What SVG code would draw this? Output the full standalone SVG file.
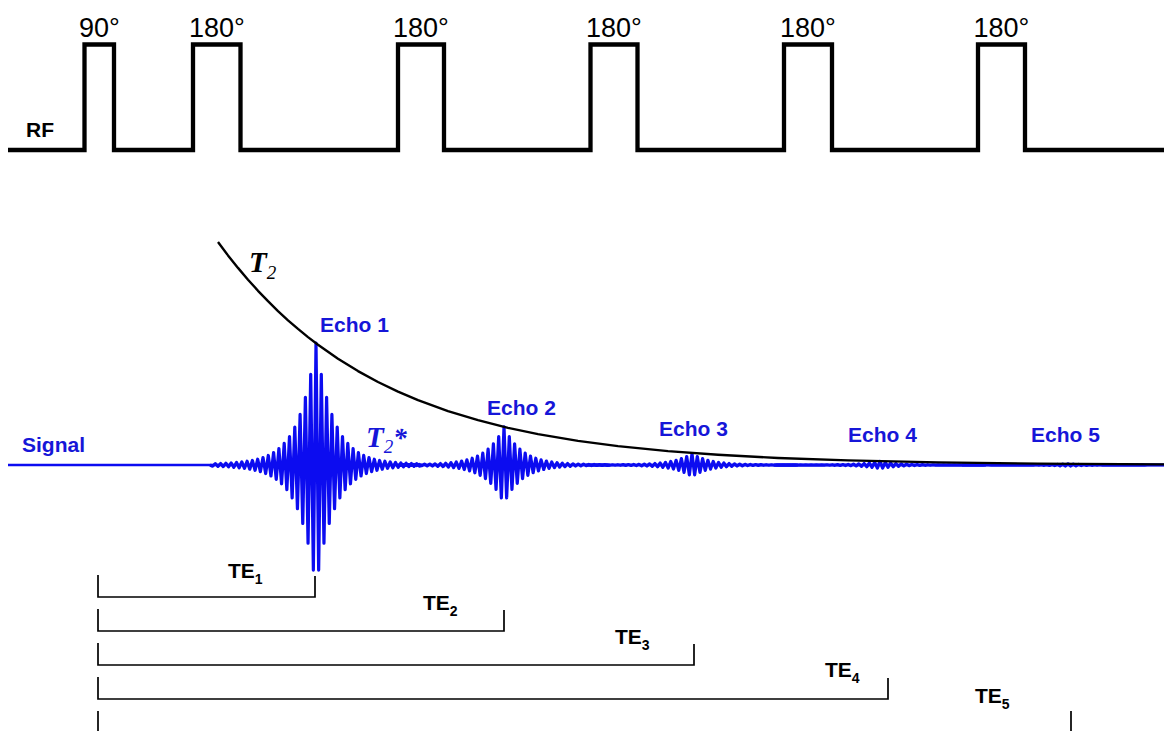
<svg xmlns="http://www.w3.org/2000/svg" xmlns:xlink="http://www.w3.org/1999/xlink" width="1164" height="731" viewBox="0 0 1164 731">
<style>
.ang{font-family:"Liberation Sans",Arial,sans-serif;font-size:27px;fill:#000;text-anchor:middle}
.lbl{font-family:"Liberation Sans",Arial,sans-serif;font-weight:bold;font-size:21px;fill:#000}
.blu{font-family:"Liberation Sans",Arial,sans-serif;font-weight:bold;font-size:21px;fill:#1616d8}
.te{font-family:"Liberation Sans",Arial,sans-serif;font-weight:bold;font-size:21px;fill:#000}
.sym{font-family:"Liberation Serif","Times New Roman",serif;font-style:italic;font-weight:bold;font-size:29px}
.br{fill:none;stroke:#000;stroke-width:1.7}
.echo{fill:none;stroke:#0c0cf0;stroke-width:3.2;stroke-linejoin:round;vector-effect:non-scaling-stroke}
</style>
<defs>
<path id="echoShape" class="echo" d="M-40 0 L-39 1.2 L-38 -1.3 L-37 1.4 L-36 -1.5 L-35 1.6 L-34 -1.8 L-33 1.9 L-32 -2 L-31 2.3 L-30 -2.5 L-29 2.7 L-28 -3 L-27 3.3 L-26 -3.7 L-25 4.1 L-24 -4.5 L-23 5.2 L-22 -5.7 L-21 6.5 L-20 -7.3 L-19 8.4 L-18 -9.4 L-17 10.8 L-16 -12.3 L-15 14.1 L-14 -16.2 L-13 18.5 L-12 -21.3 L-11 24.4 L-10 -28.1 L-9 32.4 L-8 -37.4 L-7 43.1 L-6 -49.8 L-5 57.6 L-4 -66.7 L-3 77.1 L-2 -89.3 L-1 103.5 L0 -120 L1 103.5 L2 -89.3 L3 77.1 L4 -66.7 L5 57.6 L6 -49.8 L7 43.1 L8 -37.4 L9 32.4 L10 -28.1 L11 24.4 L12 -21.3 L13 18.5 L14 -16.2 L15 14.1 L16 -12.3 L17 10.8 L18 -9.4 L19 8.4 L20 -7.3 L21 6.5 L22 -5.7 L23 5.2 L24 -4.5 L25 4.1 L26 -3.7 L27 3.3 L28 -3 L29 2.7 L30 -2.5 L31 2.3 L32 -2 L33 1.9 L34 -1.8 L35 1.6 L36 -1.5 L37 1.4 L38 -1.3 L39 1.2 L40 0"/>
</defs>
<rect width="1164" height="731" fill="#fff"/>

<g id="rf">
<path d="M8 150 H84.5 V44.5 H114 V150 H193 V44.5 H240.5 V150 H398 V44.5 H444 V150 H590.5 V44.5 H637.5 V150 H784 V44.5 H832 V150 H978 V44.5 H1025 V150 H1164" fill="none" stroke="#000" stroke-width="4.3" stroke-linejoin="miter"/>
<text class="lbl" x="26" y="137">RF</text>
<text class="ang" x="99.5" y="37">90°</text>
<text class="ang" x="217" y="37">180°</text>
<text class="ang" x="421" y="37">180°</text>
<text class="ang" x="614" y="37">180°</text>
<text class="ang" x="808" y="37">180°</text>
<text class="ang" x="1001.5" y="37">180°</text>
</g>

<g id="signal">
<line x1="8" y1="465" x2="1164" y2="465" stroke="#0c0cf0" stroke-width="2.7"/>
<use xlink:href="#echoShape" href="#echoShape" transform="translate(316,465) scale(2.65,1.015)"/>
<use xlink:href="#echoShape" href="#echoShape" transform="translate(504,465) scale(2.65,0.318)"/>
<use xlink:href="#echoShape" href="#echoShape" transform="translate(692,465) scale(2.65,0.095)"/>
<use xlink:href="#echoShape" href="#echoShape" transform="translate(880,465) scale(2.65,0.03)"/>
<use xlink:href="#echoShape" href="#echoShape" transform="translate(1068,465) scale(2.65,0.01)"/>
<text class="blu" x="22" y="452">Signal</text>
<text class="sym" x="366" y="447" fill="#1616d8">T<tspan font-size="19" font-weight="normal" dy="6">2</tspan><tspan font-size="27" dy="-6">*</tspan></text>
</g>

<g id="t2curve">
<path d="M218 242 L228 255.4 L238 267.9 L248 279.7 L258 290.8 L268 301.2 L278 311.1 L288 320.3 L298 328.9 L308 337.1 L318 344.7 L338 358.7 L358 371.1 L378 382 L398 391.6 L418 400.2 L448 411.1 L478 420.2 L508 427.8 L538 434.1 L578 440.9 L618 446.1 L668 451.1 L718 454.8 L778 458 L848 460.4 L938 462.4 L1038 463.6 L1164 464.4" fill="none" stroke="#000" stroke-width="2.4" stroke-linejoin="round"/>
<text class="sym" x="249" y="272" fill="#000">T<tspan font-size="19" font-weight="normal" dy="7">2</tspan></text>
</g>

<g id="echo-labels">
<text class="blu" x="320" y="332">Echo 1</text>
<text class="blu" x="487" y="415">Echo 2</text>
<text class="blu" x="659" y="436">Echo 3</text>
<text class="blu" x="848" y="442">Echo 4</text>
<text class="blu" x="1031" y="442">Echo 5</text>
</g>

<g id="te-brackets">
<path class="br" d="M98 575 V597 H315 V576"/>
<path class="br" d="M98 609 V631 H504 V610"/>
<path class="br" d="M98 643 V665 H694 V644"/>
<path class="br" d="M98 677 V699 H888 V678"/>
<path class="br" d="M98 711 V733 M1071 711 V733"/>
<text class="te" x="228" y="578">TE<tspan font-size="14" dy="6">1</tspan></text>
<text class="te" x="423" y="610">TE<tspan font-size="14" dy="6">2</tspan></text>
<text class="te" x="615" y="644">TE<tspan font-size="14" dy="6">3</tspan></text>
<text class="te" x="825" y="677">TE<tspan font-size="14" dy="6">4</tspan></text>
<text class="te" x="975" y="703">TE<tspan font-size="14" dy="6">5</tspan></text>
</g>
</svg>
